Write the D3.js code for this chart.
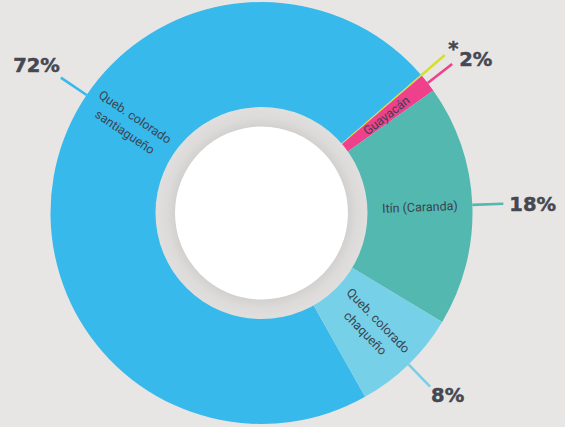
<!DOCTYPE html>
<html>
<head>
<meta charset="utf-8">
<script src="https://cdn.jsdelivr.net/npm/d3@7/dist/d3.min.js"></script>
<style>
  html, body { margin: 0; padding: 0; background: #e8e6e5; }
  svg { display: block; }
</style>
</head>
<body>
<svg id="chart" width="565" height="427"></svg>
<script>
// ---- data ----
const categories = ["Queb. colorado santiagueño", "*", "Guayacán", "Itín (Caranda)", "Queb. colorado chaqueño"];
const values = [71.8, 0.12, 1.4, 18.5, 8.2];
const percentLabels = ["72%", "*", "2%", "18%", "8%"];
const sliceLabelLines = [["Queb. colorado", "santiagueño"], [], ["Guayacán"], ["Itín (Caranda)"], ["Queb. colorado", "chaqueño"]];

// ---- style / layout ----
const colors = ["#38b9eb", "#d6e02c", "#ee408b", "#52b8b0", "#76d0e7"];
const W = 565, H = 427;
const cx = 261.5, cy = 213;
const rOuter = 211, rInner = 100, rRing = 106, rHole = 86.5;
const rLabel = 158.5, rLineOut = 242;
const startDeg = 150.6;
// custom label angle for the big slice (degrees, clockwise from top), null = slice middle
const labelAngleOverride = [304, null, null, null, null];
// percent text offsets from the leader line end
const pctOffsets = [
  {dx: -1, dy: -6, anchor: "end"},
  {dx: 3.5, dy: -0.5, anchor: "start"},
  {dx: 7, dy: 1.7, anchor: "start"},
  {dx: 6, dy: 7, anchor: "start"},
  {dx: 1, dy: 15.5, anchor: "start"}
];

const svg = d3.select("#chart");
svg.append("rect").attr("width", W).attr("height", H).attr("fill", "#e8e6e5");

const defs = svg.append("defs");
const grad = defs.append("radialGradient").attr("id", "ringGrad")
  .attr("cx", "50%").attr("cy", "50%").attr("r", "50%");
grad.append("stop").attr("offset", (rHole / rRing)).attr("stop-color", "#d2d1d0");
grad.append("stop").attr("offset", "0.9").attr("stop-color", "#dcdbda");
grad.append("stop").attr("offset", "1").attr("stop-color", "#e0dfde");

const g = svg.append("g").attr("transform", `translate(${cx},${cy})`);

const rad = d => d * Math.PI / 180;
const pie = d3.pie().sort(null).value(d => d.value)
  .startAngle(rad(startDeg)).endAngle(rad(startDeg + 360));
const data = categories.map((c, i) => ({name: c, value: values[i], i}));
const arcs = pie(data);
const arc = d3.arc().innerRadius(rInner).outerRadius(rOuter);

g.selectAll("path.slice").data(arcs).join("path")
  .attr("class", "slice")
  .attr("d", arc)
  .attr("fill", d => colors[d.data.i]);

// inner ring + hole
g.append("circle").attr("r", rRing).attr("fill", "url(#ringGrad)");
g.append("circle").attr("r", rHole).attr("fill", "#ffffff");

function labelAngle(d) {
  const o = labelAngleOverride[d.data.i];
  return o != null ? o : ((d.startAngle + d.endAngle) / 2) * 180 / Math.PI;
}
function pt(angleDeg, r) {
  const a = rad(angleDeg);
  return [Math.sin(a) * r, -Math.cos(a) * r];
}

// slice labels
const lblG = g.append("g");
arcs.forEach(d => {
  const lines = sliceLabelLines[d.data.i];
  if (!lines.length) return;
  let a = labelAngle(d) % 360;
  const [x, y] = pt(a, rLabel);
  const rot = a > 180 ? a - 270 : a - 90;
  const t = lblG.append("text")
    .attr("transform", `translate(${x},${y}) rotate(${rot})`)
    .attr("text-anchor", "middle")
    .attr("font-family", "Roboto, 'Noto Sans', sans-serif")
    .attr("font-size", 12.5)
    .attr("fill", "#3b4350");
  const lh = 18;
  lines.forEach((ln, k) => {
    t.append("tspan").attr("x", 0)
      .attr("y", (k - (lines.length - 1) / 2) * lh)
      .attr("dominant-baseline", "central")
      .text(ln);
  });
});

// leader lines + percent labels
arcs.forEach(d => {
  const i = d.data.i;
  const a = labelAngle(d);
  const [x1, y1] = pt(a, rOuter);
  const [x2, y2] = pt(a, rLineOut);
  g.append("line")
    .attr("x1", x1).attr("y1", y1).attr("x2", x2).attr("y2", y2)
    .attr("stroke", colors[i]).attr("stroke-width", 2.6);
  const o = pctOffsets[i];
  g.append("text")
    .attr("x", x2 + o.dx).attr("y", y2 + o.dy)
    .attr("text-anchor", o.anchor)
    .attr("font-family", "'DejaVu Sans', sans-serif")
    .attr("font-weight", "bold")
    .attr("font-size", 19.5)
    .attr("fill", "#464851")
    .attr("stroke", "#464851")
    .attr("stroke-width", 0.5)
    .text(percentLabels[i]);
});
</script>
</body>
</html>
